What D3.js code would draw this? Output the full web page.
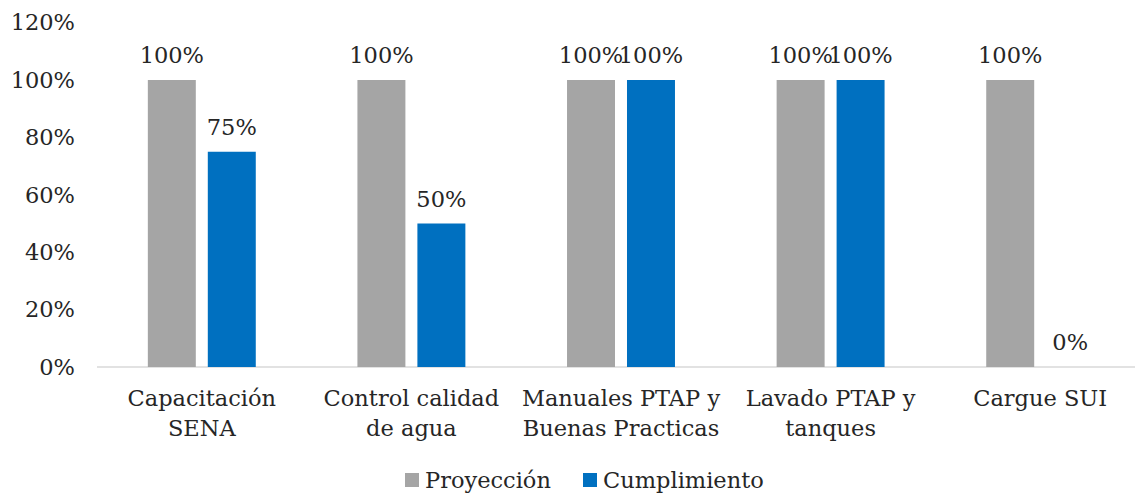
<!DOCTYPE html>
<html>
<head>
<meta charset="utf-8">
<script src="https://cdn.jsdelivr.net/npm/d3@7"></script>
<style>
  body { margin: 0; background: #fff; }
  text { font-family: "DejaVu Serif", "Liberation Serif", serif; fill: #262626; }
</style>
</head>
<body>
<div id="chart-area"></div>
<script>
// datos
var categories = ["Capacitación SENA", "Control calidad de agua", "Manuales PTAP y Buenas Practicas", "Lavado PTAP y tanques", "Cargue SUI"];
var categoryLines = [["Capacitación", "SENA"], ["Control calidad", "de agua"], ["Manuales PTAP y", "Buenas Practicas"], ["Lavado PTAP y", "tanques"], ["Cargue SUI"]];
var series = ["Proyección", "Cumplimiento"];
var proyeccion = [1, 1, 1, 1, 1];
var cumplimiento = [0.75, 0.5, 1, 1, 0];
var yTicks = [0, 0.2, 0.4, 0.6, 0.8, 1, 1.2];
var colors = ["#A5A5A5", "#0070C0"];

var W = 1135, H = 495;
var fs = "22.5px";
var svg = d3.select("#chart-area").append("svg")
    .attr("width", W).attr("height", H);

var x0 = d3.scaleBand().domain(categories).range([97, 1145]).paddingInner(0.485).paddingOuter(0.2425);
var x1 = d3.scaleBand().domain(series).range([0, x0.bandwidth()]).paddingInner(0.2);
var y = d3.scaleLinear().domain([0, 1.2]).range([367, 22.6]);

// eje Y (solo etiquetas)
var yAxis = svg.append("g")
    .attr("transform", "translate(97,0)")
    .call(d3.axisLeft(y).tickValues(yTicks).tickSize(0).tickPadding(22).tickFormat(d3.format(".0%")));
yAxis.select(".domain").remove();
yAxis.selectAll("text").style("font-size", fs).attr("fill", "#262626");

// linea base
svg.append("line")
    .attr("x1", 97).attr("x2", 1145)
    .attr("y1", y(0)).attr("y2", y(0))
    .attr("stroke", "#D9D9D9").attr("stroke-width", 1.5);

var rows = categories.map(function(c, i) {
    return { cat: c, vals: [proyeccion[i], cumplimiento[i]] };
});

var groups = svg.selectAll("g.grp").data(rows).enter().append("g")
    .attr("class", "grp")
    .attr("transform", function(d) { return "translate(" + x0(d.cat) + ",0)"; });

groups.selectAll("rect").data(function(d) {
    return d.vals.map(function(v, j) { return { s: series[j], v: v, j: j }; });
}).enter().append("rect")
    .attr("x", function(d) { return x1(d.s); })
    .attr("y", function(d) { return y(d.v); })
    .attr("width", x1.bandwidth())
    .attr("height", function(d) { return y(0) - y(d.v); })
    .attr("fill", function(d) { return colors[d.j]; });

groups.selectAll("text.lbl").data(function(d) {
    return d.vals.map(function(v, j) { return { s: series[j], v: v }; });
}).enter().append("text")
    .attr("class", "lbl")
    .attr("x", function(d) { return x1(d.s) + x1.bandwidth() / 2; })
    .attr("y", function(d) { return y(d.v) - 17; })
    .attr("text-anchor", "middle")
    .style("font-size", fs)
    .text(function(d) { return d3.format(".0%")(d.v); });

// etiquetas de categoria
categories.forEach(function(c, i) {
    var t = svg.append("text")
        .attr("x", x0(c) + x0.bandwidth() / 2)
        .attr("y", 406)
        .attr("text-anchor", "middle")
        .style("font-size", fs);
    categoryLines[i].forEach(function(line, k) {
        t.append("tspan")
            .attr("x", x0(c) + x0.bandwidth() / 2)
            .attr("dy", k === 0 ? 0 : 30)
            .text(line);
    });
});

// leyenda
var legendX = [405, 583];
series.forEach(function(s, j) {
    var g = svg.append("g").attr("transform", "translate(" + legendX[j] + ",473)");
    g.append("rect").attr("width", 14).attr("height", 14).attr("fill", colors[j]);
    g.append("text").attr("x", 20).attr("y", 15).style("font-size", fs).text(s);
});
</script>
</body>
</html>
